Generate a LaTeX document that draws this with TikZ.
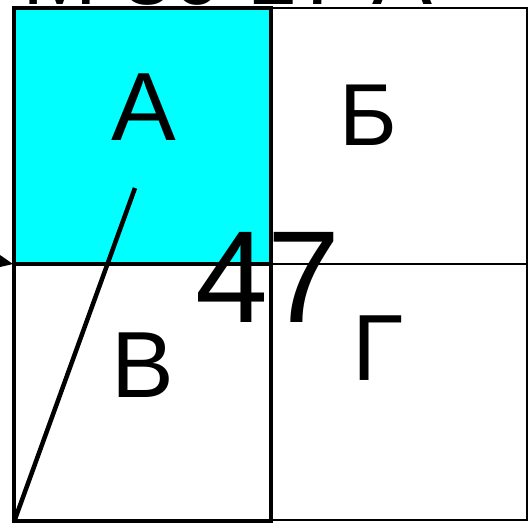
\documentclass[tikz,border=0pt]{standalone}
\usepackage{fontspec}
\setmainfont{Liberation Sans}
\definecolor{cellcyan}{RGB}{0,255,255}
\begin{document}
\begin{tikzpicture}[x=1pt,y=-1pt,
  thin cell/.style={draw=black,line width=2pt},
  thick cell/.style={draw=black,line width=3.5pt},
  letter/.style={inner sep=0pt,anchor=base,font=\fontsize{90}{90}\selectfont}]
\useasboundingbox (0,0) rectangle (530,527);
\begin{scope}
\clip (0,0) rectangle (530,527);
\node[inner sep=0pt,anchor=base west,font=\fontsize{90}{90}\selectfont] (top) at (22,5) {М 30 17 А};
\fill[cellcyan] (14,8) rectangle (271,264);
\draw[thin cell] (271,8) rectangle (527,264);
\draw[thin cell] (271,264) rectangle (527,520);
\draw[thick cell] (14,8) rectangle (271,264);
\draw[thick cell] (14,264) rectangle (271,521);
\node[letter,font=\fontsize{97}{97}\selectfont] (A) at (144,140) {А};
\node[letter,font=\fontsize{88}{88}\selectfont] (B) at (368,145) {Б};
\node[letter,font=\fontsize{94}{94}\selectfont] (V) at (143,397) {В};
\node[letter,font=\fontsize{94}{94}\selectfont] (G) at (378,380) {Г};
\node[letter,font=\fontsize{131}{131}\selectfont] (n47) at (268,322) {47};
\coordinate (d1) at (135,188);
\coordinate (d2) at (14,522);
\draw[line width=4.5pt] (d1) -- (d2);
\coordinate (tip) at (13,264);
\fill (0,255) -- (tip) -- (0,267) -- cycle;
\end{scope}
\end{tikzpicture}
\end{document}
